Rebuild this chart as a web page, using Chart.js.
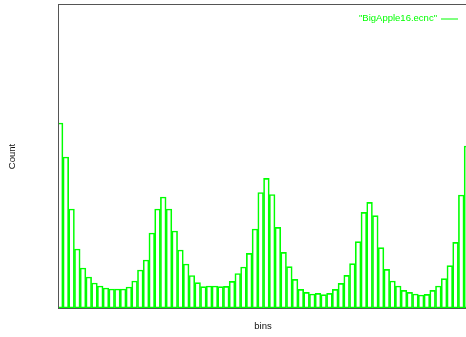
<!DOCTYPE html>
<html>
<head>
<meta charset="utf-8">
<script src="https://cdn.jsdelivr.net/npm/chart.js@4/dist/chart.umd.min.js"></script>
<style>
  html, body { margin: 0; padding: 0; background: #fff; overflow: hidden; }
  #wrap { width: 466px; height: 337px; overflow: hidden; }
</style>
</head>
<body>
<div id="wrap"><canvas id="c" width="470" height="337"></canvas></div>
<script>
// bin index of each bar
const bins = [0,1,2,3,4,5,6,7,8,9,10,11,12,13,14,15,16,17,18,19,20,21,22,23,
  24,25,26,27,28,29,30,31,32,33,34,35,36,37,38,39,40,41,42,43,44,45,46,47,
  48,49,50,51,52,53,54,55,56,57,58,59,60,61,62,63,64,65,66,67,68,69,70,71];
// count in each bin
const counts = [185,151,99,59,40,31,25,22,20,19,19,19,21,27,38,48,75,99,111,99,77,58,44,32.5,
  25.3,21.3,22,22,21.3,21.7,26.7,34.5,41,54.7,79,115.5,129.7,113.5,80.7,55.7,41.3,28.7,18.7,15.7,14,14.7,13.3,14.7,
  18.7,24.7,32.7,44.3,66.3,95.7,105.7,92.3,60.3,38.7,27,22,17.7,15.7,14,13,13.7,17.7,22,29.3,42.3,65.7,113,162];
const seriesLabel = '"BigApple16.ecnc"';
const xTitle = 'bins';
const yTitle = 'Count';

const GREEN = 'rgb(0,255,0)';
const FONT = '"Liberation Sans", Arial, sans-serif';

const framePlugin = {
  id: 'frame',
  beforeDatasetsDraw(chart) {
    const {ctx, chartArea: a} = chart;
    ctx.save();
    ctx.strokeStyle = '#555';
    ctx.lineWidth = 1;
    ctx.strokeRect(a.left - 0.5, a.top - 0.5, a.right - a.left + 1, a.bottom - a.top + 1);
    ctx.restore();
  },
  afterDraw(chart) {
    const {ctx, chartArea: a} = chart;
    const y = a.top + 13.5;
    ctx.save();
    ctx.font = '9.5px ' + FONT;
    ctx.fillStyle = GREEN;
    ctx.textAlign = 'right';
    ctx.textBaseline = 'middle';
    ctx.fillText(chart.data.datasets[0].label, a.right - 30, y);
    ctx.strokeStyle = GREEN;
    ctx.lineWidth = 1;
    ctx.beginPath();
    ctx.moveTo(a.right - 26, y + 0.5);
    ctx.lineTo(a.right - 9, y + 0.5);
    ctx.stroke();
    ctx.restore();
  }
};

new Chart(document.getElementById('c'), {
  type: 'bar',
  data: {
    datasets: [{
      label: seriesLabel,
      data: bins.map((b, i) => ({x: b, y: counts[i]})),
      backgroundColor: 'rgba(255,255,255,0)',
      borderColor: GREEN,
      borderWidth: 1,
      borderSkipped: false,
      barPercentage: 1,
      categoryPercentage: 1,
      clip: {left: 0, top: false, right: false, bottom: false}
    }]
  },
  options: {
    responsive: false,
    animation: false,
    devicePixelRatio: 1,
    layout: { padding: { top: 5, right: 3, left: 0, bottom: 0 } },
    plugins: { legend: { display: false }, tooltip: { enabled: false } },
    scales: {
      x: {
        type: 'linear',
        offset: false,
        min: -0.19,
        max: 71,
        grid: { display: false, drawTicks: false, offset: false },
        border: { display: false },
        ticks: { display: false },
        title: { display: true, text: xTitle, color: '#111', font: { family: FONT, size: 9.5 }, padding: { top: 0, bottom: 5.3 } },
        afterFit(s) { s.height = 29; }
      },
      y: {
        min: 0,
        max: 303,
        grid: { display: false, drawTicks: false },
        border: { display: false },
        ticks: { display: false },
        title: { display: true, text: yTitle, color: '#111', font: { family: FONT, size: 9.5 }, padding: { top: 6.5, bottom: 0 } },
        afterFit(s) { s.width = 59; }
      }
    }
  },
  plugins: [framePlugin]
});
</script>
</body>
</html>
